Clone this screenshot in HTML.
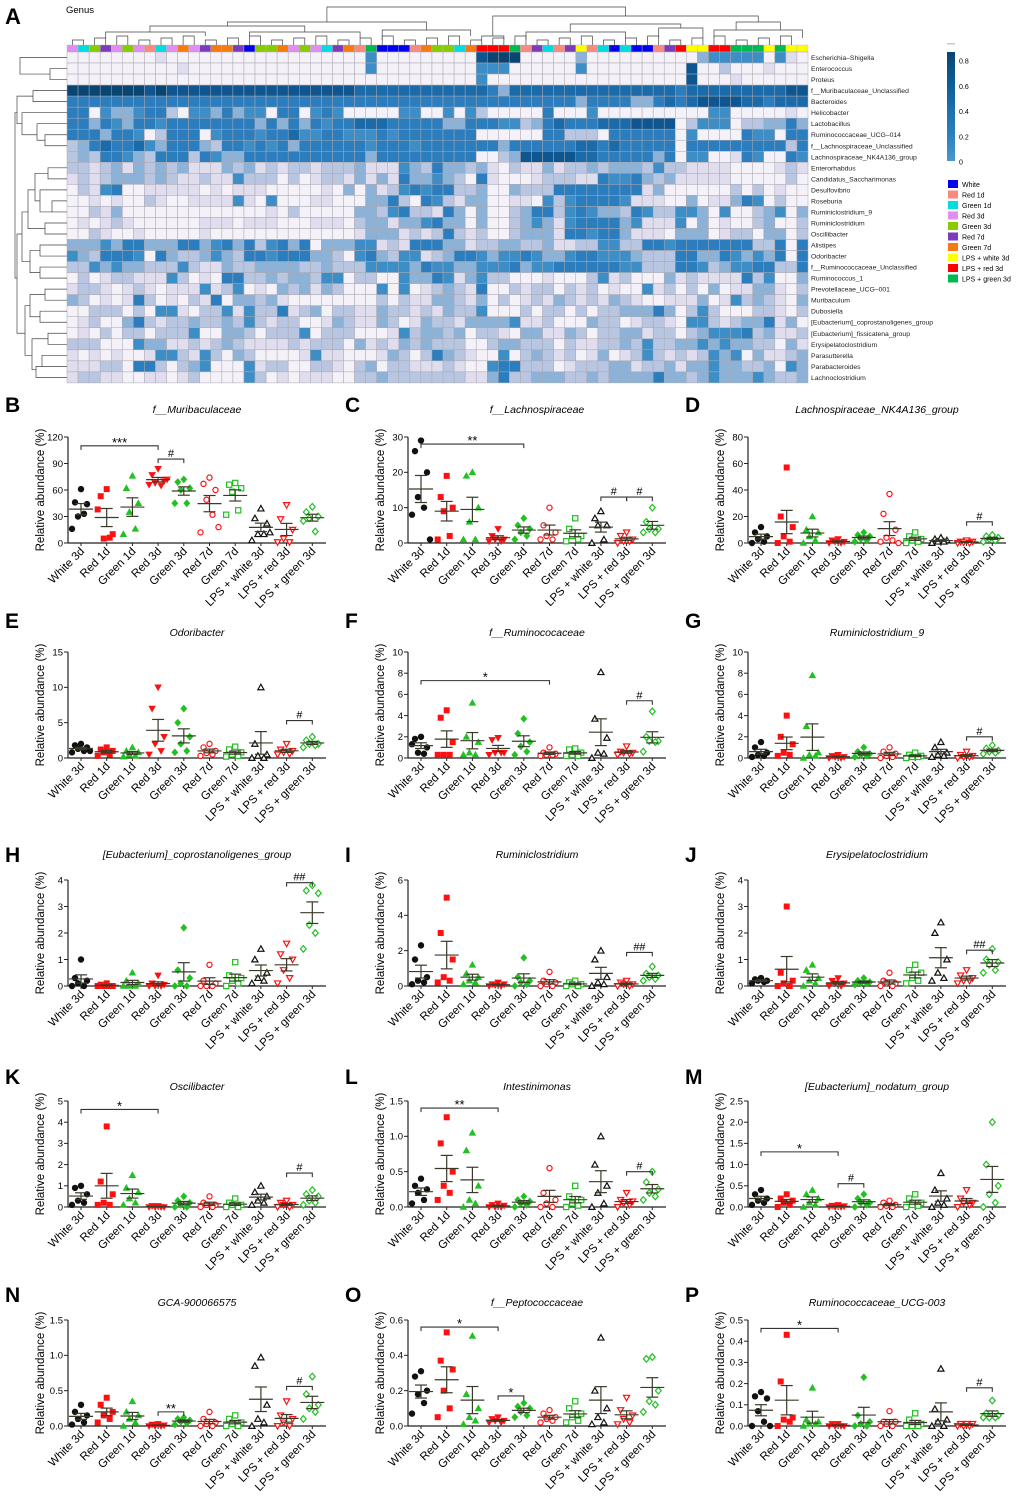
<!DOCTYPE html>
<html><head><meta charset="utf-8">
<style>
body{margin:0;background:#fff;}
svg{display:block;font-family:"Liberation Sans",Arial,sans-serif;}
</style></head>
<body>
<svg id="fig" width="1020" height="1499" viewBox="0 0 1020 1499" xmlns="http://www.w3.org/2000/svg"></svg>
<script>
// ---------- Heatmap data ----------
const hmGenera = ["Escherichia–Shigella","Enterococcus","Proteus","f__Muribaculaceae_Unclassified","Bacteroides","Helicobacter","Lactobacillus","Ruminococcaceae_UCG–014","f__Lachnospiraceae_Unclassified","Lachnospiraceae_NK4A136_group","Enterorhabdus","Candidatus_Saccharimonas","Desulfovibrio","Roseburia","Ruminiclostridium_9","Ruminiclostridium","Oscillibacter","Alistipes","Odoribacter","f__Ruminococcaceae_Unclassified","Ruminococcus_1","Prevotellaceae_UCG–001","Muribaculum","Dubosiella","[Eubacterium]_coprostanoligenes_group","[Eubacterium]_fissicatena_group","Erysipelatoclostridium","Parasutterella","Parabacteroides","Lachnoclostridium"];
const hmLevels = [
"0000000010000000000000000004000000000788"+"800000300000000003444440410",
"0000000000100000000000000004000000000444"+"000000400000000070020001000",
"0000000000000000000000000000000000000400"+"000000000000000070001000000",
"8888888787777777777777777766666666666653"+"666666666666666566666666677",
"5555555555555555555555555555555555555555"+"555555355553356567777665666",
"5504334552044353440550454000004400404200"+"000500040000000000440000010",
"5535435545555555535353545566655555335554"+"423565556667777024440223353",
"5553554025550455545564455444545555555000"+"000552220555555040000544055",
"2356556435553255454535555554555455555553"+"555555665655555055555555525",
"2325543255525433555555555553555555555002"+"377777665555535044001540054",
"2212313232311132312122122231114325332310"+"211312232333242211110000121",
"1212333232112114222020122131315334320510"+"001222115445323111110000020",
"0214500111110101110000010303124545522300"+"322255555555130000002020100",
"0010100210011114104000110003352054213300"+"110424555541110030113540200",
"0021300000000000001020000033245221530300"+"235524543325422443040023403",
"0101210000001110111000111023313345330300"+"234314555534111403010023002",
"0021001000001000000000000013331212521200"+"233315545531110333012203302",
"3334355333553453524535033344121555331223"+"322311224422554555555522505",
"4325554053223432554555332045324412355434"+"454334554443222553354343505",
"2243433222421132233332232224444354433444"+"534455555544222554234455225",
"0201221114201055223233244022004335413422"+"000100024120003121111524003",
"1221012101114124010323132000404012321500"+"212202120100412020301133102",
"3201015201021503323100000000202113321302"+"012132121321001113014232103",
"0022202044102241422512302211322121322400"+"020220202233353024200022102",
"0120035212232232421220013211320132213333"+"411200032201221044212335130",
"0102022022240033202224022200014233230221"+"033113202233122023444523112",
"2220004331121232111121222031213232220023"+"322202112232422334343322031",
"1010100144214203200001411000132025321004"+"023212013012421212434031123",
"1112205520234000412200221023022111210045"+"522201222331223133433223043",
"1221100110120000420101110022322222221135"+"223332232333353323433343223"];
const hmColGroups = ["R3","G1","G3","R7","R3","G3","R3","R1","G1","R3","G7","R3","R7","G7","G7","R7","W","G3","G3","G7","R3","G3","R3","G1","R7","G7","R1","LG","W","W","W","R1","G7","G3","G3","G1","G7","LR","LR","LR",
"LG","R1","R7","G1","R1","R7","LW","R1","G1","W","G1","W","W","R1","R7","LR","LW","LW","LR","LR","LG","LG","LG","LW","LG","LW","LW"];
const legendNames = ["White","Red 1d","Green 1d","Red 3d","Green 3d","Red 7d","Green 7d","LPS + white 3d","LPS + red 3d","LPS + green 3d"];
const legendKeys = ["W","R1","G1","R3","G3","R7","G7","LW","LR","LG"];
const scaleTicks = [0,0.2,0.4,0.6,0.8];

// ---------- Scatter data ----------
const groups = ["White 3d","Red 1d","Green 1d","Red 3d","Green 3d","Red 7d","Green 7d","LPS + white 3d","LPS + red 3d","LPS + green 3d"];
const B_vals=[[61,46,44,30,33,16],[61,53,10,5,6,38],[76,62,45,35,16,10],[84,77,70,68,65,66,72],[72,69,62,60,45,45],[74,67,60,49,32,12,18],[68,66,62,58,37,32],[39,28,22,10,10,3,12],[43,27,15,5,1,1],[41,35,30,28,13,25]];
const B_ticks=[0,30,60,90,120];
const C_vals=[[29,26,20,13,10,8,1],[19,13,10,9,2,1],[20,19,10,6,1,1],[4,2,1,1,0.5,0.5],[7,5,4,3,2,1],[10,5,3,2,1,1],[7,4,2,2,1,0.5],[9,7,5,5,1,0],[3,2,1,0.5,0.5,0],[10,6,4,4,3,3]];
const C_ticks=[0,10,20,30];
const D_vals=[[12,8,5,3,1,0],[57,20,12,5,1,0],[20,10,8,5,2,0],[3,2,1,1,0,0],[8,6,5,3,2,1],[37,22,10,4,2,1,0],[8,5,3,2,1,0],[4,3,2,1,1,0],[2,1,1,0.5,0,0],[6,5,4,3,2,1]];
const D_ticks=[0,20,40,60,80];
const E_vals=[[2,1.8,1.5,1.3,1,0.8,1],[1.5,1.2,1,0.8,0.5,0.3],[1.5,1,0.8,0.5,0.3,0.2],[10,7,3,2,1,0.5],[7,5,3,2,1,0.8],[2,1.5,1,0.7,0.5,0.3],[1.6,1.2,0.8,0.5,0.3,0.2],[10,2,0.5,0.3,0,0],[2,1.2,1,0.8,0.6,0.5],[3,2.5,2,2,1.8,1.5]];
const E_ticks=[0,5,10,15];
const F_vals=[[2,1.8,1,0.5,0.4,1.3],[4.5,3.8,1.5,0.3,0.3,0.3],[5.2,2,1.5,0.5,0.3,0.3],[1.9,1.7,0.5,0.5,0.5,0.3],[3.7,2.3,1.5,1.1,0.6,0.3],[1,0.5,0.4,0.3,0.3,0.2],[0.9,0.8,0.5,0.3,0.2,0.2],[8.1,3.7,1.9,0.5,0.4,0],[1.1,0.6,0.5,0.5,0.4,0.3],[4.4,2,1.6,1.6,1.5,0.6]];
const F_ticks=[0,2,4,6,8,10];
const G_vals=[[1.5,1,0.5,0.3,0.2,0.1],[4,2,1.3,0.5,0.3,0.2],[7.8,3,0.5,0.3,0.2,0],[0.3,0.2,0.1,0.1,0,0],[1,0.6,0.4,0.3,0.2,0.1],[1,0.6,0.4,0.2,0.1,0],[0.5,0.3,0.2,0.1,0.1,0],[1.5,1,0.5,0.3,0.2,0.1],[0.6,0.3,0.2,0.1,0.1,0],[1.2,0.9,0.7,0.6,0.5,0.4]];
const G_ticks=[0,2,4,6,8,10];
const H_vals=[[1,0.3,0.2,0.1,0,0],[0.1,0.05,0,0,0,0],[0.5,0.2,0.1,0,0,0],[0.4,0.1,0.05,0,0,0],[2.2,0.6,0.3,0.1,0,0],[0.8,0.2,0.1,0,0,0],[0.9,0.4,0.3,0.2,0.1,0],[1.4,1,0.5,0.3,0.2,0.1],[1.6,1.2,1,0.6,0.3,0.1],[3.8,3.6,3.5,2.3,2,1.4]];
const H_ticks=[0,1,2,3,4];
const I_vals=[[2.3,1.5,0.5,0.3,0.2,0.1],[5,3,1.5,0.5,0.3,0.2],[1.2,0.7,0.5,0.3,0.2,0.1],[0.2,0.1,0.1,0.05,0,0],[1.6,0.5,0.3,0.2,0.1,0],[0.8,0.3,0.2,0.1,0,0],[0.3,0.2,0.1,0.1,0,0],[2,1.5,0.5,0.2,0.1,0],[0.3,0.2,0.1,0.1,0,0],[1.1,0.7,0.6,0.5,0.4,0.3]];
const I_ticks=[0,2,4,6];
const J_vals=[[0.3,0.25,0.2,0.2,0.15,0.1],[3,0.5,0.2,0.1,0,0],[0.8,0.6,0.3,0.2,0.1,0],[0.3,0.2,0.1,0.1,0,0],[0.3,0.2,0.15,0.1,0.1,0.05],[0.5,0.2,0.1,0.1,0,0],[0.8,0.6,0.5,0.3,0.2,0.1],[2.4,2,1,0.5,0.3,0.2],[0.6,0.4,0.3,0.2,0.2,0.1],[1.4,1,0.9,0.8,0.6,0.5]];
const J_ticks=[0,1,2,3,4];
const K_vals=[[1,0.9,0.6,0.3,0.2,0.1],[3.8,1.2,0.6,0.2,0.1,0.1],[1.5,0.9,0.7,0.4,0.2,0.1],[0.05,0.05,0,0,0,0],[0.5,0.3,0.2,0.1,0,0],[0.5,0.2,0.1,0.1,0,0],[0.4,0.2,0.1,0.1,0,0],[1,0.7,0.5,0.3,0.2,0.1],[0.3,0.2,0.1,0.1,0,0],[0.8,0.6,0.5,0.3,0.2,0.1]];
const K_ticks=[0,1,2,3,4,5];
const L_vals=[[0.4,0.3,0.25,0.2,0.1,0.05],[1.27,0.9,0.5,0.3,0.2,0.1],[1.05,0.8,0.3,0.1,0.05,0],[0.05,0.03,0.02,0,0,0],[0.15,0.1,0.08,0.05,0.03,0],[0.55,0.2,0.1,0.05,0,0],[0.3,0.15,0.1,0.05,0.02,0],[1,0.6,0.3,0.2,0.05,0],[0.2,0.1,0.08,0.05,0.03,0],[0.5,0.35,0.25,0.2,0.15,0.1]];
const L_ticks=[0,0.5,1.0,1.5];
const M_vals=[[0.4,0.3,0.2,0.15,0.1,0.05],[0.3,0.2,0.15,0.1,0.05,0],[0.4,0.3,0.2,0.1,0.05,0],[0.05,0.03,0.02,0,0,0],[0.3,0.2,0.1,0.1,0.05,0],[0.15,0.1,0.05,0.03,0,0],[0.3,0.2,0.1,0.05,0.03,0],[0.8,0.4,0.2,0.1,0.05,0],[0.4,0.2,0.1,0.1,0.05,0],[2,1,0.5,0.3,0.1,0]];
const M_ticks=[0,0.5,1.0,1.5,2.0,2.5];
const N_vals=[[0.3,0.2,0.15,0.1,0.05,0.02],[0.4,0.3,0.2,0.15,0.1,0.05],[0.35,0.2,0.15,0.1,0.05,0],[0.03,0.02,0.01,0,0,0],[0.12,0.1,0.08,0.06,0.04,0.02],[0.2,0.1,0.05,0.03,0,0],[0.15,0.1,0.05,0.03,0,0],[0.97,0.85,0.3,0.1,0.05,0],[0.35,0.15,0.1,0.05,0,0],[0.7,0.45,0.3,0.25,0.2,0.1]];
const N_ticks=[0,0.5,1.0,1.5];
const O_vals=[[0.31,0.28,0.2,0.18,0.13,0.07],[0.53,0.37,0.32,0.2,0.1,0.05],[0.51,0.18,0.1,0.05,0.03,0.01],[0.05,0.04,0.03,0.03,0.02,0.02],[0.13,0.11,0.1,0.08,0.06,0.05],[0.09,0.07,0.05,0.04,0.03,0.02],[0.14,0.1,0.07,0.05,0.03,0.02],[0.5,0.2,0.1,0.05,0.02,0.01],[0.16,0.09,0.06,0.04,0.02,0.01],[0.39,0.38,0.2,0.14,0.12,0.08]];
const O_ticks=[0,0.2,0.4,0.6];
const P_vals=[[0.16,0.14,0.13,0.07,0.02,0,0],[0.43,0.21,0.04,0.03,0.02,0],[0.18,0.03,0.02,0.01,0.01,0],[0.01,0.01,0,0,0,0],[0.23,0.05,0.02,0.01,0,0],[0.07,0.02,0.02,0.01,0,0],[0.06,0.03,0.01,0,0,0],[0.27,0.08,0.03,0.02,0,0],[0.01,0.01,0.01,0,0,0],[0.12,0.06,0.05,0.04,0.04,0.04]];
const P_ticks=[0,0.1,0.2,0.3,0.4,0.5];
// significance: [fromGroup, toGroup, yValue, label]
const B_sig=[[0,3,110,"***"],[3,4,95,"#"]];
const C_sig=[[0,4,28,"**"],[7,8,13,"#"],[8,9,13,"#"]];
const D_sig=[[8,9,16,"#"]];
const E_sig=[[8,9,5.3,"#"]];
const F_sig=[[0,5,7.3,"*"],[8,9,5.4,"#"]];
const G_sig=[[8,9,2,"#"]];
const H_sig=[[8,9,3.9,"##"]];
const I_sig=[[8,9,1.9,"##"]];
const J_sig=[[8,9,1.35,"##"]];
const K_sig=[[0,3,4.6,"*"],[8,9,1.6,"#"]];
const L_sig=[[0,3,1.4,"**"],[8,9,0.5,"#"]];
const M_sig=[[0,3,1.3,"*"],[3,4,0.55,"#"]];
const N_sig=[[3,4,0.2,"**"],[8,9,0.56,"#"]];
const O_sig=[[0,3,0.56,"*"],[3,4,0.17,"*"]];
const P_sig=[[0,3,0.46,"*"],[8,9,0.18,"#"]];

const NS="http://www.w3.org/2000/svg";
const svg=document.getElementById('fig');
function mk(tag,attrs,parent){const e=document.createElementNS(NS,tag);for(const k in attrs)e.setAttribute(k,attrs[k]);(parent||svg).appendChild(e);return e;}
function txt(s,attrs,parent){const e=mk('text',attrs,parent);e.textContent=s;return e;}

// ---------- Heatmap ----------
const hmColors=["#f5f1f8","#e0ddee","#b8c6e2","#8cb2d8","#3d8dc6","#2b7dbd","#1b6aaa","#0f5690","#0a4572"];
const groupColors={W:"#0000ee",R1:"#f88a80",G1:"#00dce0",R3:"#e08ef0",G3:"#88cc00",R7:"#7a3cb8",G7:"#f57a10",LW:"#ffff00",LR:"#ff0000",LG:"#00b850"};
const hmX0=67,hmX1=808,hmY0=52,nCols=67,nRows=30;
const cw=(hmX1-hmX0)/nCols,ch=11.03;
const hm=mk('g',{},svg);


txt("A",{x:5,y:24,'font-size':22,'font-weight':'bold'});
txt("Genus",{x:66,y:13,'font-size':9.5});
hmColGroups.forEach((g,c)=>{
  const r=mk('rect',{x:hmX0+c*cw,y:45,width:cw,height:7,fill:groupColors[g],stroke:'#bbb','stroke-width':0.4},hm);
  
  
});
hmLevels.forEach((row,r)=>{
  for(let c=0;c<nCols;c++){
    const lv=parseInt(row[c]||'0');
    const rc=mk('rect',{x:hmX0+c*cw,y:hmY0+r*ch,width:cw,height:ch,fill:hmColors[lv],stroke:'#a8a8b0','stroke-width':0.5},hm);
    
    
  }
  const t=txt(hmGenera[r],{x:811,y:hmY0+r*ch+ch/2+2.5,'font-size':6.8,fill:'#222'});
  
  
});
// dendrograms (approximate tree outlines)
const dg=mk('g',{stroke:'#444','stroke-width':0.7,fill:'none'},svg);


const rowY=i=>hmY0+i*ch+ch/2;
function lbr(a,b,x,x1a,x1b){mk('path',{d:`M${x1a},${a}H${x}V${b}H${x1b}`},dg);}
lbr(rowY(1),rowY(2),50,67,67);lbr(rowY(0),(rowY(1)+rowY(2))/2,20,67,50);
lbr(rowY(3),rowY(4),33,67,67);lbr(rowY(7),rowY(8),45,67,67);lbr(rowY(6),(rowY(7)+rowY(8))/2,37,67,45);
lbr(rowY(5),rowY(7),22,67,37);lbr((rowY(3)+rowY(4))/2,rowY(6),17,33,22);
lbr(rowY(10),rowY(11),48,67,67);lbr(rowY(13),rowY(14),52,67,67);lbr(rowY(15),rowY(16),45,67,67);
lbr(rowY(12),rowY(14),40,67,52);lbr(rowY(10.5),rowY(13),35,48,40);lbr(rowY(12),rowY(15.5),28,35,45);
lbr(rowY(17),rowY(18),40,67,67);lbr(rowY(19),rowY(20),40,67,67);lbr(rowY(17.5),rowY(19.5),30,40,40);
lbr(rowY(14),rowY(18.5),22,28,30);
lbr(rowY(21),rowY(22),45,67,67);lbr(rowY(23),rowY(24),40,67,67);lbr(rowY(25),rowY(26),48,67,67);
lbr(rowY(27),rowY(28),42,67,67);lbr(rowY(29),rowY(28),36,67,42);lbr(rowY(25.5),rowY(28.3),32,48,36);
lbr(rowY(21.5),rowY(23.5),30,45,40);lbr(rowY(22.5),rowY(27),25,30,32);
lbr(rowY(16),rowY(25),17,22,25);lbr(rowY(5),rowY(20),15,17,17);
const colX=i=>hmX0+i*cw+cw/2;
function tbr(a,b,y,ya,yb){mk('path',{d:`M${a},${ya}V${y}H${b}V${yb}`},dg);}
for(let i=0;i<66;i+=2){tbr(colX(i),colX(i+1),40-(i%6),45,45);}
tbr(colX(3),colX(12),32,38,36);tbr(colX(16),colX(26),32,36,38);tbr(colX(7),colX(21),26,32,32);
tbr(colX(28),colX(36),30,40,36);tbr(colX(14),colX(32),22,26,30);
tbr(colX(41),colX(50),32,40,38);tbr(colX(53),colX(57),28,38,38);tbr(colX(45),colX(55),24,32,28);
tbr(colX(37),colX(39),36,40,40);tbr(colX(58),colX(66),30,38,38);tbr(colX(60),colX(64),22,30,30);tbr(colX(38),colX(62),16,36,22);
tbr(colX(23),colX(50),7,22,16);
// color scale
const grad=mk('linearGradient',{id:'cs',x1:0,y1:1,x2:0,y2:0},mk('defs',{},svg));
[["0","#4b98cd"],["0.25","#2a7fc0"],["0.5","#1a6eac"],["0.75","#0c5a90"],["1","#09466f"]].forEach(s=>mk('stop',{offset:s[0],'stop-color':s[1]},grad));
const cbar=mk('rect',{x:947,y:52,width:8,height:109,fill:'url(#cs)'});


mk('rect',{x:947,y:43,width:8,height:1.5,fill:'#b8cce0'});
scaleTicks.forEach(v=>{
  const t=txt(v===0?"0":v.toFixed(1),{x:959,y:162-v/0.8*101+2.5,'font-size':7});
  
  
});
legendKeys.forEach((k,i)=>{
  const y=180+i*10.5;
  const r=mk('rect',{x:948,y:y,width:10,height:8,fill:groupColors[k]});
  
  
  const t=txt(legendNames[i],{x:962,y:y+7,'font-size':7});
  
  
});

// ---------- Scatter panels ----------
const panels=[
 ["B","f__Muribaculaceae",0,0,B_vals,B_ticks,B_sig],
 ["C","f__Lachnospiraceae",1,0,C_vals,C_ticks,C_sig],
 ["D","Lachnospiraceae_NK4A136_group",2,0,D_vals,D_ticks,D_sig],
 ["E","Odoribacter",0,1,E_vals,E_ticks,E_sig],
 ["F","f__Ruminococaceae",1,1,F_vals,F_ticks,F_sig],
 ["G","Ruminiclostridium_9",2,1,G_vals,G_ticks,G_sig],
 ["H","[Eubacterium]_coprostanoligenes_group",0,2,H_vals,H_ticks,H_sig],
 ["I","Ruminiclostridium",1,2,I_vals,I_ticks,I_sig],
 ["J","Erysipelatoclostridium",2,2,J_vals,J_ticks,J_sig],
 ["K","Oscilibacter",0,3,K_vals,K_ticks,K_sig],
 ["L","Intestinimonas",1,3,L_vals,L_ticks,L_sig],
 ["M","[Eubacterium]_nodatum_group",2,3,M_vals,M_ticks,M_sig],
 ["N","GCA-900066575",0,4,N_vals,N_ticks,N_sig],
 ["O","f__Peptococcaceae",1,4,O_vals,O_ticks,O_sig],
 ["P","Ruminococcaceae_UCG-003",2,4,P_vals,P_ticks,P_sig]];
const colOff=[0,340,680];
const rowTop=[437,652,880,1101,1320];
const rowTitle=[413,636,858,1090,1306];
const rowLetter=[412,628,862,1084,1302];
const PH=106;
const RED="#ff1010",GRN="#22c022",BLK="#111";
const markers=[["circle",BLK,1],["square",RED,1],["tri",GRN,1],["dtri",RED,1],["diamond",GRN,1],["circle",RED,0],["square",GRN,0],["tri",BLK,0],["dtri",RED,0],["diamond",GRN,0]];
const jit=[0,-6,6,-3,3,-9,9];
function marker(g,type,col,filled,x,y){
  const a=filled?{fill:col,stroke:col,'stroke-width':0.8}:{fill:'#fff',stroke:col,'stroke-width':1.2};
  let e;
  if(type==="circle")e=mk('circle',Object.assign({cx:x,cy:y,r:filled?2.8:2.6},a),g);
  else if(type==="square")e=mk('rect',Object.assign({x:x-2.6,y:y-2.6,width:5.2,height:5.2},a),g);
  else if(type==="tri")e=mk('path',Object.assign({d:`M${x},${y-3.1}L${x+3.1},${y+2.4}L${x-3.1},${y+2.4}Z`},a),g);
  else if(type==="dtri")e=mk('path',Object.assign({d:`M${x},${y+3.1}L${x+3.1},${y-2.4}L${x-3.1},${y-2.4}Z`},a),g);
  else e=mk('path',Object.assign({d:`M${x},${y-3.3}L${x+2.9},${y}L${x},${y+3.3}L${x-2.9},${y}Z`},a),g);
  return e;
}
panels.forEach(p=>{
  const [letter,title,ci,ri,vals,ticks,sigs]=p;
  const xo=colOff[ci],top=rowTop[ri],bot=top+PH;
  const ax=xo+68,axEnd=xo+326;
  const ymax=ticks[ticks.length-1];
  const Y=v=>bot-v/ymax*PH;
  const X=i=>xo+81+i*25.7;
  const g=mk('g',{},svg);
  
  
  const L=txt(letter,{x:xo+5,y:rowLetter[ri],'font-size':21,'font-weight':'bold'},g);
  
  const T=txt(title,{x:xo+197,y:rowTitle[ri],'font-size':10.5,'font-style':'italic','text-anchor':'middle'},g);
  
  const yl=txt("Relative abundance (%)",{x:0,y:0,'font-size':11.5,'text-anchor':'middle',transform:`translate(${xo+44},${top+PH/2}) rotate(-90)`},g);
  
  mk('line',{x1:ax,y1:top,x2:ax,y2:bot,stroke:'#222','stroke-width':1.2},g);
  mk('line',{x1:ax,y1:bot,x2:axEnd,y2:bot,stroke:'#222','stroke-width':1.2},g);
  ticks.forEach(t=>{
    mk('line',{x1:ax-4,y1:Y(t),x2:ax,y2:Y(t),stroke:'#222','stroke-width':1},g);
    const dec=ticks.some(v=>v%1!==0)?1:0;
    const tl=txt(t.toFixed(dec),{x:ax-5,y:Y(t)+3.3,'font-size':9.5,'text-anchor':'end'},g);
    
  });
  groups.forEach((gn,i)=>{
    mk('line',{x1:X(i),y1:bot,x2:X(i),y2:bot+3,stroke:'#222','stroke-width':1},g);
    const xl=txt(gn,{x:0,y:0,'font-size':11.5,'text-anchor':'end',transform:`translate(${X(i)+4},${bot+9}) rotate(-45)`},g);
    
  });
  vals.forEach((arr,i)=>{
    const [type,col,filled]=markers[i];
    arr.forEach((v,k)=>{
      const m=marker(g,type,col,filled,X(i)+jit[k%jit.length],Y(v));
      
      
    });
    const n=arr.length,mean=arr.reduce((a,b)=>a+b,0)/n;
    const sd=Math.sqrt(arr.reduce((a,b)=>a+(b-mean)**2,0)/(n-1)),se=sd/Math.sqrt(n);
    const eg=mk('g',{stroke:'#3a3a2a','stroke-width':1.2},g);
    
    
    mk('line',{x1:X(i)-12,y1:Y(mean),x2:X(i)+12,y2:Y(mean)},eg);
    mk('line',{x1:X(i),y1:Y(mean+se),x2:X(i),y2:Y(Math.max(0,mean-se))},eg);
    mk('line',{x1:X(i)-6,y1:Y(mean+se),x2:X(i)+6,y2:Y(mean+se)},eg);
    mk('line',{x1:X(i)-6,y1:Y(Math.max(0,mean-se)),x2:X(i)+6,y2:Y(Math.max(0,mean-se))},eg);
  });
  sigs.forEach(s=>{
    const [a,b,v,lab]=s;
    const sg=mk('g',{},g);
    
    
    const y=Y(v);
    mk('path',{d:`M${X(a)},${y+4}V${y}H${X(b)}V${y+4}`,stroke:'#333','stroke-width':1.1,fill:'none'},sg);
    txt(lab,{x:(X(a)+X(b))/2,y:y-(lab.startsWith('*')?-1:2),'font-size':lab.startsWith('*')?13:11,'text-anchor':'middle'},sg);
  });
});
</script>
</body></html>
